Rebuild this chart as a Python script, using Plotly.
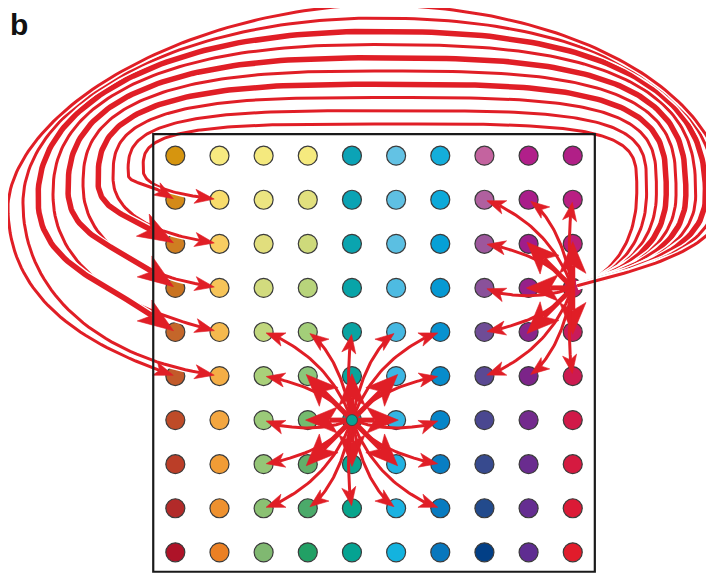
import numpy as np
import plotly.graph_objects as go

# ---------------- data ----------------
col_idx = [0, 1, 2, 3, 4, 5, 6, 7, 8, 9]
row_idx = [0, 1, 2, 3, 4, 5, 6, 7, 8, 9]

dot_colors = [
    ["#D6950F", "#F7EA80", "#F4E97E", "#F5EA7E", "#0BA3B6", "#63C2E4", "#14AEDB", "#C4639F", "#B11F8A", "#B11F87"],
    ["#D48A18", "#F8DC6C", "#ECE581", "#E2E07E", "#0BA3B4", "#5FC0E3", "#0DA9D9", "#B0609F", "#A91D8A", "#B91F83"],
    ["#CF7E21", "#F8CD62", "#E1DE7D", "#CEDA7B", "#0AA4AF", "#5BBFE2", "#06A0D6", "#9D579C", "#A01D8B", "#BC1E77"],
    ["#C97320", "#F6C459", "#D2DB7E", "#B8D47B", "#08A4A8", "#4EBBE2", "#0699D3", "#8A519A", "#96208A", "#C21C68"],
    ["#C4662A", "#F5B94E", "#C1D77E", "#A3CE79", "#09A3A2", "#45B8E2", "#0892D0", "#6F4C96", "#89248A", "#C81B5B"],
    ["#C25A2A", "#F4AE46", "#A9D07A", "#8CC67A", "#09A49B", "#3CB6E3", "#078CCB", "#5B4993", "#7C2489", "#CD1A50"],
    ["#BE4B28", "#F3A640", "#9BCA79", "#74BB6E", "#0AA394", "#33B5E3", "#0585C8", "#4A4790", "#732A8D", "#D11948"],
    ["#BB3E28", "#F19C36", "#94C577", "#62B06A", "#0AA490", "#22B2E2", "#087EC3", "#374A8E", "#6A2C8F", "#D51A40"],
    ["#B22A29", "#EE912F", "#8BC173", "#4BAA6A", "#08A58C", "#1BB2E1", "#087BC0", "#224A8C", "#652D91", "#DB1A36"],
    ["#AE1328", "#EB8024", "#80B871", "#22A065", "#05A392", "#13B3DF", "#0877BD", "#023F86", "#5F2D91", "#E11C2B"],
]

panel_label = "b"

# sources (col, row)
source_a = (4, 6)
source_b = (9, 3)

# arrows from source A
arrows_a_col = [2, 3, 4, 5, 6, 2, 3, 4, 5, 6, 2, 3, 5, 6, 2, 3, 4, 5, 6, 2, 3, 4, 5, 6]
arrows_a_row = [4, 4, 4, 4, 4, 5, 5, 5, 5, 5, 6, 6, 6, 6, 7, 7, 7, 7, 7, 8, 8, 8, 8, 8]
arrows_a_strong = [0, 0, 0, 0, 0, 0, 1, 1, 1, 0, 0, 1, 1, 0, 0, 1, 1, 1, 0, 0, 0, 0, 0, 0]

# local arrows from source B
arrows_b_col = [7, 8, 9, 7, 8, 9, 7, 8, 7, 8, 9, 7, 8, 9]
arrows_b_row = [1, 1, 1, 2, 2, 2, 3, 3, 4, 4, 4, 5, 5, 5]
arrows_b_strong = [0, 0, 0, 0, 1, 1, 0, 1, 0, 1, 1, 0, 0, 0]

# wrap-around arrows from source B (inner loop -> outer loop)
wrap_col = [1, 0, 1, 0, 1, 0, 1, 0, 1, 0]
wrap_row = [1, 1, 2, 2, 3, 3, 4, 4, 5, 5]
wrap_strong = [0, 0, 0, 1, 0, 1, 0, 1, 0, 0]
wrap_end_angle = [8, 30, 10, 30, 10, 35, 15, 35, 10, 20]

RED = "#E01E26"

# ---------------- geometry helpers ----------------
def bez3(p0, p1, p2, p3, n=40):
    t = np.linspace(0, 1, n)[:, None]
    return (1 - t) ** 3 * p0 + 3 * (1 - t) ** 2 * t * p1 + 3 * (1 - t) * t ** 2 * p2 + t ** 3 * p3


def bez2(p0, p1, p2, n=40):
    t = np.linspace(0, 1, n)[:, None]
    return (1 - t) ** 2 * p0 + 2 * (1 - t) * t * p1 + t ** 2 * p2


def superq(cx, cy, a, b, ne, th0, th1, n=70):
    th = np.radians(np.linspace(th0, th1, n))
    c, s = np.cos(th), np.sin(th)
    x = cx + a * np.sign(c) * np.abs(c) ** (2.0 / ne)
    y = cy - b * np.sign(s) * np.abs(s) ** (2.0 / ne)
    return np.column_stack([x, y])


def unit(v):
    v = np.asarray(v, float)
    return v / np.linalg.norm(v)


def head_poly(tip, d, L, W, notch):
    nrm = np.array([-d[1], d[0]])
    base = tip - L * d
    pts = [tip, base + W * nrm, tip - (L - notch) * d, base - W * nrm, tip]
    return np.array(pts)


def trim(path, tip, cut):
    dist = np.linalg.norm(path - tip, axis=1)
    return path[dist > cut]


fig = go.Figure()

# ---------------- dots ----------------
xs, ys, cs = [], [], []
for r in row_idx:
    for c in col_idx:
        xs.append(c)
        ys.append(r)
        cs.append(dot_colors[r][c])
fig.add_trace(go.Scatter(x=xs, y=ys, mode="markers",
                         marker=dict(size=19, color=cs, line=dict(color="#3b3b3b", width=1.2)),
                         hoverinfo="skip"))


def add_line(path, width, casing=0):
    if casing:
        fig.add_trace(go.Scatter(x=path[:, 0], y=path[:, 1], mode="lines",
                                 line=dict(color="white", width=width + casing),
                                 hoverinfo="skip"))
    fig.add_trace(go.Scatter(x=path[:, 0], y=path[:, 1], mode="lines",
                             line=dict(color=RED, width=width), hoverinfo="skip"))


def add_head(poly):
    fig.add_trace(go.Scatter(x=poly[:, 0], y=poly[:, 1], mode="lines", fill="toself",
                             fillcolor=RED, line=dict(color=RED, width=0.6), hoverinfo="skip"))


# ---------------- wrap-around loops ----------------
S = np.array([9.1, 2.95])
for k in range(len(wrap_col)):
    t = k / 9.0
    Rx, Ry = 10.45 + 2.0 * t, 0.85 + 0.1 * t
    Tx, Ty = 4.5, -0.72 - 2.70 * t
    Lx, Ly = -0.73 - 3.06 * t, 0.32 + 0.84 * t
    ne_r = 4.2 - 2.2 * t
    ne_l = 3.4 - 1.6 * t
    strong = wrap_strong[k]
    ang = np.radians(wrap_end_angle[k])
    d = np.array([np.cos(ang), np.sin(ang)])
    tgt = np.array([wrap_col[k], wrap_row[k]], float)
    tip = tgt - (0.05 if wrap_col[k] == 0 else 0.12) * d
    L, W, notch = (0.8, 0.29, 0.2) if strong else (0.44, 0.16, 0.11)
    E = tip - (L - notch) * d
    R = np.array([Rx, Ry])
    seg1 = bez3(S, S + 0.55 * (Rx - S[0]) * unit([1, -0.25]), R + np.array([0, 0.55 * (S[1] - Ry)]), R)
    seg2 = superq(Tx, Ry, Rx - Tx, Ry - Ty, ne_r, 0, 90)
    seg3 = superq(Tx, Ly, Tx - Lx, Ly - Ty, ne_l, 90, 180)
    Lp = np.array([Lx, Ly])
    seg4 = bez3(Lp, Lp + np.array([0, 0.55 * (E[1] - Ly)]), E - 0.55 * (E[0] - Lx) * d, E)
    path = np.vstack([seg1, seg2, seg3, seg4])
    add_line(path, 5.5 if strong else 3.0, casing=3)
    add_head(head_poly(tip, d, L, W, notch))


# ---------------- local arrows ----------------
def local_arrows(src, cols, rows, strongs, f=0.45):
    s = np.array(src, float)
    for c, r, st in zip(cols, rows, strongs):
        tg = np.array([c, r], float)
        mid = (s + tg) / 2
        corner = np.array([s[0], tg[1]])
        ctrl = mid + f * (corner - mid)
        if r == src[1]:
            ctrl = mid + np.array([0, 0.35])
        if c == src[0]:
            ctrl = mid + np.array([-0.15, 0])
        if st:
            ctrl = mid
        d = unit(tg - ctrl)
        tip = tg + 0.05 * d if st else tg - 0.06 * d
        path = bez2(s, ctrl, tip)
        L, W, notch = (0.72, 0.3, 0.18) if st else (0.42, 0.16, 0.11)
        cut = L - notch
        path = trim(path, tip, cut)
        path = np.vstack([path, tip - cut * d])
        add_line(path, 5.0 if st else 3.0)
        add_head(head_poly(tip, d, L, W, notch))


local_arrows(source_b, arrows_b_col, arrows_b_row, arrows_b_strong)
local_arrows(source_a, arrows_a_col, arrows_a_row, arrows_a_strong)

# source A small dot on top
fig.add_trace(go.Scatter(x=[source_a[0]], y=[source_a[1]], mode="markers",
                         marker=dict(size=11, color=dot_colors[source_a[1]][source_a[0]],
                                     line=dict(color="#3b3b3b", width=0.8)),
                         hoverinfo="skip"))

# ---------------- frame ----------------
fig.add_shape(type="rect", x0=-0.5, x1=9.5, y0=-0.49, y1=9.44, xref="x", yref="y",
              line=dict(color="#1a1a1a", width=2.2), layer="above")

fig.add_annotation(text="<b>%s</b>" % panel_label, x=0, y=1, xref="paper", yref="paper",
                   xanchor="left", yanchor="top", showarrow=False, yshift=2,
                   font=dict(family="Liberation Sans, Arial, sans-serif", size=30, color="#111"))

fig.update_layout(
    width=714, height=574, margin=dict(l=0, r=0, t=0, b=0),
    paper_bgcolor="white", plot_bgcolor="white", showlegend=False,
    xaxis=dict(range=[-3.789, 12.380], visible=False, fixedrange=True),
    yaxis=dict(range=[9.673, -3.351], visible=False, fixedrange=True),
)

fig.write_html("out.html")
